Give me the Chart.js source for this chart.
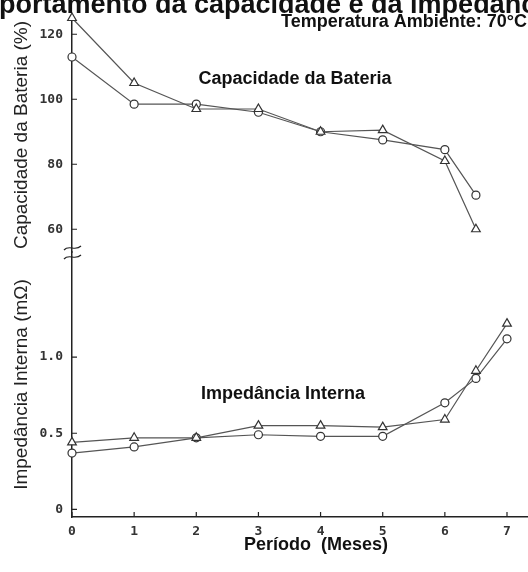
<!DOCTYPE html>
<html>
<head>
<meta charset="utf-8">
<script src="https://cdn.jsdelivr.net/npm/chart.js@4"></script>
<style>
  html, body { margin: 0; padding: 0; background: #fff; }
  #wrap { width: 528px; height: 572px; }
</style>
</head>
<body>
<div id="wrap"><canvas id="chart"></canvas></div>
<script>
// capacidade (%) - meses 0..6.5
const capMonths = [0, 1, 2, 3, 4, 5, 6, 6.5];
const capTriangle = [125, 105, 97, 97, 90, 90.5, 81, 60];
const capCircle = [113, 98.5, 98.5, 96, 90, 87.5, 84.5, 70.5];

// impedancia interna (mOhm) - meses 0..7
const impMonths = [0, 1, 2, 3, 4, 5, 6, 6.5, 7];
const impTriangle = [0.44, 0.47, 0.47, 0.55, 0.55, 0.54, 0.59, 0.91, 1.22];
const impCircle = [0.37, 0.41, 0.47, 0.49, 0.48, 0.48, 0.70, 0.86, 1.12];

const xTicks = [0, 1, 2, 3, 4, 5, 6, 7];
const capTicks = [60, 80, 100, 120];
const impTicks = [0, 0.5, 1.0];

const toPoints = (xs, ys) => xs.map((x, i) => ({ x, y: ys[i] }));

const ink = "#333";
const tickFont = { family: "DejaVu Sans Mono", size: 13, weight: "bold" };

function series(data, axis, style) {
  return {
    data,
    yAxisID: axis,
    borderColor: "#555",
    borderWidth: 1.2,
    pointStyle: style,
    pointRadius: style === "triangle" ? 5 : 4,
    pointBorderColor: ink,
    pointBorderWidth: 1.2,
    pointBackgroundColor: "#fff",
    tension: 0,
    clip: false,
  };
}

function keepTicks(list) {
  return (axis) => {
    axis.ticks = list.map((v) => ({ value: v }));
  };
}

// textos, quebra do eixo e marcas internas
const extras = {
  id: "extras",
  afterDraw(chart) {
    const ctx = chart.ctx;
    const { x, yCap, yImp } = chart.scales;
    ctx.save();
    ctx.strokeStyle = "#222";
    ctx.lineWidth = 1.2;
    ctx.beginPath();
    [yCap, yImp].forEach((s) => {
      s.ticks.forEach((t) => {
        const py = s.getPixelForValue(t.value);
        ctx.moveTo(s.right, py);
        ctx.lineTo(s.right + 5, py);
      });
    });
    x.ticks.forEach((t) => {
      const px = x.getPixelForValue(t.value);
      ctx.moveTo(px, x.top);
      ctx.lineTo(px, x.top - 5);
    });
    ctx.stroke();

    // quebra do eixo
    const ax = yCap.right;
    [248, 257].forEach((by) => {
      ctx.beginPath();
      ctx.moveTo(ax - 8, by + 2);
      ctx.bezierCurveTo(ax - 3, by - 4, ax + 3, by + 4, ax + 9, by - 2);
      ctx.stroke();
    });

    ctx.fillStyle = "#111";
    ctx.textBaseline = "alphabetic";
    ctx.font = "bold 27px 'Liberation Sans', Arial, sans-serif";
    ctx.textAlign = "left";
    ctx.fillText("Comportamento da capacidade e da impedância interna", -61, 13);

    ctx.font = "bold 18px 'Liberation Sans', Arial, sans-serif";
    ctx.textAlign = "right";
    ctx.fillText("Temperatura Ambiente: 70°C", 527, 27);

    ctx.textAlign = "center";
    ctx.textBaseline = "middle";
    ctx.fillText("Capacidade da Bateria", 295, 79);
    ctx.fillText("Impedância Interna", 283, 394);
    ctx.fillText("Período  (Meses)", 316, 545);
    ctx.restore();
  },
};

new Chart(document.getElementById("chart"), {
  type: "line",
  data: {
    datasets: [
      series(toPoints(capMonths, capTriangle), "yCap", "triangle"),
      series(toPoints(capMonths, capCircle), "yCap", "circle"),
      series(toPoints(impMonths, impTriangle), "yImp", "triangle"),
      series(toPoints(impMonths, impCircle), "yImp", "circle"),
    ],
  },
  options: {
    responsive: true,
    maintainAspectRatio: false,
    animation: false,
    layout: {
      autoPadding: false,
      padding: { top: 18, right: 0, left: 0, bottom: 0 },
    },
    plugins: {
      legend: { display: false },
      tooltip: { enabled: false },
    },
    scales: {
      x: {
        type: "linear",
        min: 0,
        max: 7.338,
        afterBuildTicks: keepTicks(xTicks),
        afterFit: (s) => {
          s.height = 55;
          s.paddingLeft = 0;
          s.paddingRight = 0;
        },
        grid: { drawOnChartArea: false, drawTicks: false },
        border: { color: "#222", width: 1.5 },
        ticks: { padding: 7, color: ink, font: tickFont },
      },
      yImp: {
        type: "linear",
        position: "left",
        stack: "v",
        stackWeight: 265,
        min: -0.05,
        max: 1.69,
        afterBuildTicks: keepTicks(impTicks),
        afterFit: (s) => { s.width = 72; },
        grid: { drawOnChartArea: false, drawTicks: false },
        border: { color: "#222", width: 1.5 },
        ticks: {
          padding: 9,
          color: ink,
          font: tickFont,
          callback: (v) => (v === 0 ? "0" : v.toFixed(1)),
        },
        title: {
          display: true,
          text: "Impedância Interna (mΩ)",
          color: "#222",
          font: { family: "'Liberation Sans', Arial, sans-serif", size: 19 },
          padding: { top: 10, bottom: 0 },
        },
      },
      yCap: {
        type: "linear",
        position: "left",
        stack: "v",
        stackWeight: 234,
        min: 53,
        max: 125,
        afterBuildTicks: keepTicks(capTicks),
        afterFit: (s) => { s.width = 72; },
        grid: { drawOnChartArea: false, drawTicks: false },
        border: { color: "#222", width: 1.5 },
        ticks: { padding: 9, color: ink, font: tickFont },
        title: {
          display: true,
          text: "Capacidade da Bateria (%)",
          color: "#222",
          font: { family: "'Liberation Sans', Arial, sans-serif", size: 19 },
          padding: { top: 10, bottom: 0 },
        },
      },
    },
  },
  plugins: [extras],
});
</script>
</body>
</html>
